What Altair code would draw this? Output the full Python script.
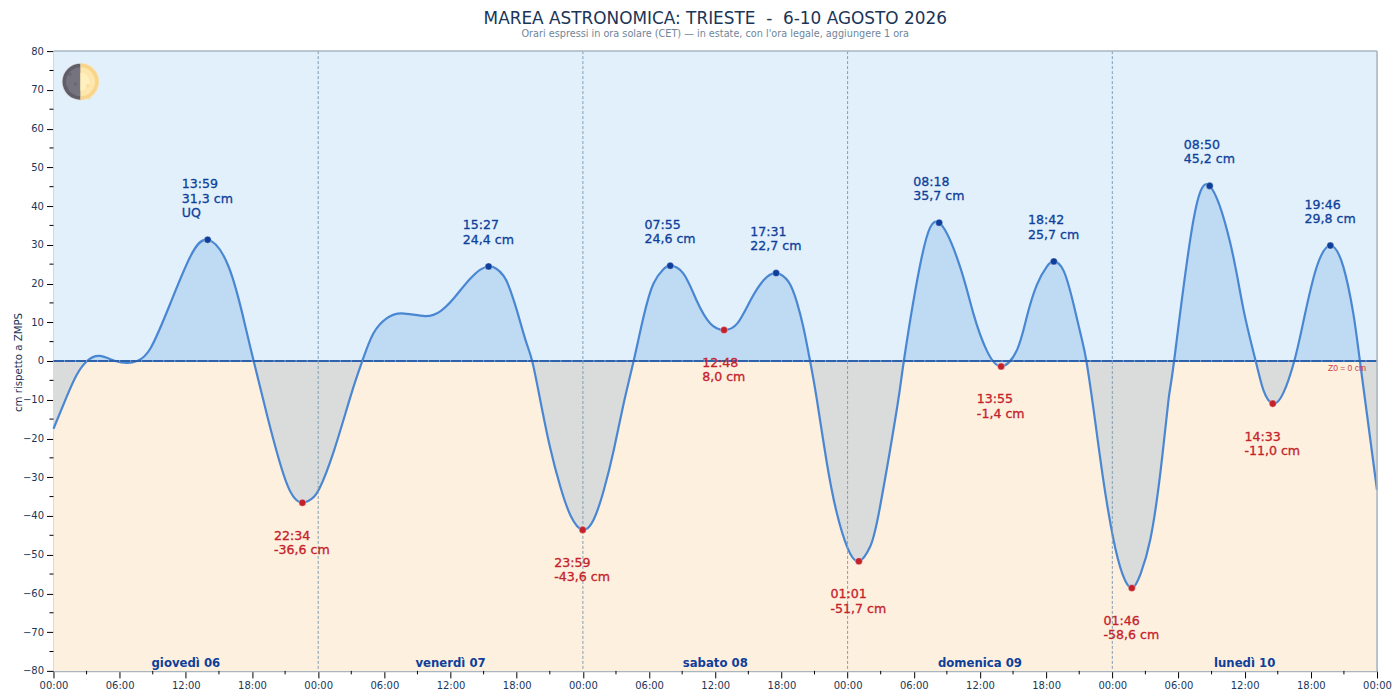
import altair as alt
import pandas as pd

# ---- curve (hours from 00:00 of day 06, cm) ----
curve_h = [0, 1.2, 2.1, 3.05, 4.2, 5.6, 6.75, 7.58, 8.8, 10.6, 12.4, 13.98, 15.9, 17.4, 18.15,
           19.4, 21.2, 22.57, 23.4, 24.1, 25.45, 26.97, 28.0, 29.0, 30.2, 31.6, 33.7, 35.1, 36.3, 37.8, 39.45,
           40.8, 41.4, 42.0, 42.8, 43.4, 44.1, 45.0, 45.95, 46.9, 47.98, 48.97, 49.9, 50.8, 51.7, 52.6, 53.5, 54.4, 55.3, 55.92,
           57.1, 58.3, 59.55, 60.8, 62.0, 63.2, 64.4, 65.52, 66.65, 67.4, 68.0, 68.6, 69.2, 70.1, 71.0, 72.0, 73.02, 74.05,
           74.95, 76.5, 77.1, 78.7, 80.3, 82.2, 83.4, 84.6, 85.92, 87.35, 88.25, 89.15, 90.05, 90.7, 91.6, 92.5, 93.25, 93.65,
           94.3, 95.2, 96.1, 96.9, 97.77, 98.58, 99.45, 100.35, 101.1, 101.6, 103.2, 104.83, 106.7, 107.9, 109.0, 109.7, 110.55, 111.5, 112.5,
           113.35, 114.5, 115.77, 116.95, 117.85, 118.45, 120]
curve_cm = [-17.5, -9.2, -3.6, 0, 1.3, 0, -0.5, 0, 3.3, 14.9, 26.9, 31.3, 24.2, 8.9, 0,
            -14.4, -32.0, -36.6, -35.6, -33.0, -23, -8.8, 0, 7.1, 11.0, 12.3, 11.6, 12.9, 16.2, 21.3, 24.4,
            22.0, 18.4, 13.2, 5.4, 0, -9.6, -22, -32.4, -40, -43.6, -41, -33.3, -23, -10.9, 0, 11.4, 20, 23.7, 24.6,
            22.6, 15.7, 9.7, 8.0, 9.7, 15.7, 20.9, 22.7, 20.4, 15.2, 8.6, 0, -9.7, -26, -39, -48.3, -51.7, -47.9,
            -37.5, -11.8, 0, 26.5, 35.7, 24.3, 12.3, 2.8, -1.4, 2.8, 11.4, 19.6, 24.3, 25.7, 23.2, 14.5, 5.5, 0,
            -12.5, -31, -46, -54.8, -58.6, -54.8, -46, -29, -10, 0, 33.8, 45.2, 30.4, 13.2, 0, -7.5, -11.0, -8.3, 0,
            10.5, 24.0, 29.8, 24.3, 12.3, 0, -33.3]

# ---- labelled extremes ----
high_h = [13.98, 39.45, 55.92, 65.52, 80.3, 90.7, 104.83, 115.77]
high_cm = [31.3, 24.4, 24.6, 22.7, 35.7, 25.7, 45.2, 29.8]
high_time = ["13:59", "15:27", "07:55", "17:31", "08:18", "18:42", "08:50", "19:46"]
high_extra = ["UQ", "", "", "", "", "", "", ""]

low_h = [22.57, 47.98, 60.8, 73.02, 85.92, 97.77, 110.55]
low_cm = [-36.6, -43.6, 8.0, -51.7, -1.4, -58.6, -11.0]
low_time = ["22:34", "23:59", "12:48", "01:01", "13:55", "01:46", "14:33"]

day_h = [12, 36, 60, 84, 108]
day_names = ["giovedì 06", "venerdì 07", "sabato 08", "domenica 09", "lunedì 10"]

midnights = [24, 48, 72, 96]
x_major = list(range(0, 121, 6))
x_minor = list(range(3, 121, 6))
y_major = list(range(-80, 81, 10))
y_minor = list(range(-75, 80, 10))
hours = list(range(1, 120))

moon_h = [2.45]
moon_cm = [72.1]
crater_dark_h = [1.5, 2.0, 1.2, 1.8]
crater_dark_cm = [74.0, 71.5, 70.5, 68.5]
crater_light_h = [3.1, 3.5, 3.2]
crater_light_cm = [71.0, 69.5, 68.0]

TITLE = "MAREA ASTRONOMICA: TRIESTE \u00a0-\u00a0 6-10 AGOSTO 2026"
SUBTITLE = "Orari espressi in ora solare (CET) — in estate, con l'ora legale, aggiungere 1 ora"

NAVY = "#1a3557"
BLUE = "#0e3f9a"
RED = "#c4222b"
FONT = "DejaVu Sans"

x_scale = alt.Scale(domain=[0, 120], nice=False, zero=False)
y_scale = alt.Scale(domain=[-80, 80], nice=False, zero=False)
X = alt.X("h:Q", scale=x_scale)
Y = alt.Y("cm:Q", scale=y_scale)

curve = pd.DataFrame({"h": curve_h, "cm": curve_cm})
zero = pd.DataFrame({"h": [0], "h2": [120], "top": [80], "mid": [0], "bot": [-80]})

bg_top = alt.Chart(zero).mark_rect(color="#e2f0fc").encode(
    x=alt.X("h:Q", scale=x_scale,
            axis=alt.Axis(values=x_major, tickCount=len(x_major), title=None, grid=False, tickSize=7, tickColor="#000000", tickWidth=1,
                          labelExpr="(datum.value%24<10?'0':'')+(datum.value%24)+':00'", labelFont=FONT,
                          labelFontSize=10, labelColor=NAVY, labelPadding=3, domainColor="#a9b6c2", domainWidth=1.5,
                          labelFlush=False, labelOverlap=False)),
    x2="h2:Q",
    y=alt.Y("top:Q", scale=y_scale,
            axis=alt.Axis(values=y_major, tickCount=len(y_major), title="cm rispetto a ZMPS", grid=False, tickSize=7, tickColor="#000000",
                          tickWidth=1, labelFont=FONT, labelFontSize=10, labelColor=NAVY, labelPadding=3,
                          domainColor="#a9b6c2", domainWidth=1.5, titleFont=FONT, titleFontSize=10.2,
                          titleFontWeight="normal", titleColor=NAVY, titleX=-30, titleY=311, labelOverlap=False)),
    y2="mid:Q",
)
bg_bot = alt.Chart(zero).mark_rect(color="#fef0df").encode(x=X, x2="h2:Q", y=alt.Y("mid:Q", scale=y_scale), y2="bot:Q")

# one area between curve and zero: blue above, grey below (split computed from the curve's own range)
split = max(curve_cm) / (max(curve_cm) - min(curve_cm))
fill = alt.LinearGradient(
    gradient="linear", x1=0, y1=0, x2=0, y2=1,
    stops=[alt.GradientStop(offset=0, color="#bfdaf3"), alt.GradientStop(offset=split, color="#bfdaf3"),
           alt.GradientStop(offset=split, color="#dadcdc"), alt.GradientStop(offset=1, color="#dadcdc")],
)
area = alt.Chart(curve).mark_area(color=fill, interpolate="natural").encode(x=X, y=Y, y2=alt.datum(0))
line = alt.Chart(curve).mark_line(color="#4a87d2", strokeWidth=2.2, interpolate="natural").encode(x=X, y=Y)

zero_line = alt.Chart(zero).mark_rule(color="#2f62ad", strokeWidth=2.2).encode(
    x=X, x2="h2:Q", y=alt.Y("mid:Q", scale=y_scale))
hour_ticks = alt.Chart(pd.DataFrame({"h": hours, "cm": [0] * len(hours)})).mark_tick(
    color="#9fbbe0", size=2, thickness=1, orient="vertical").encode(x=X, y=Y)

midnight_lines = alt.Chart(pd.DataFrame({"h": midnights})).mark_rule(
    color="#7f9db3", strokeWidth=1, strokeDash=[3, 2]).encode(x=X)

xminor = alt.Chart(pd.DataFrame({"h": x_minor})).mark_rule(color="#000000", strokeWidth=1).encode(
    x=X, y=alt.value(620), y2=alt.value(623.5))
yminor = alt.Chart(pd.DataFrame({"cm": y_minor})).mark_rule(color="#000000", strokeWidth=1).encode(
    y=Y, x=alt.value(-4), x2=alt.value(0))

# top and right edges of the frame
edges = alt.Chart(zero).mark_rule(color="#a9b6c2", strokeWidth=1.5).encode(
    x=X, x2="h2:Q", y=alt.Y("top:Q", scale=y_scale))
edge_r = alt.Chart(zero).mark_rule(color="#a9b6c2", strokeWidth=1.5).encode(
    x=alt.X("h2:Q", scale=x_scale))

high_pts = alt.Chart(pd.DataFrame({"h": high_h, "cm": high_cm})).mark_circle(
    color=BLUE, size=50, opacity=1, stroke="#ffffff", strokeWidth=0.5, strokeOpacity=0.7).encode(x=X, y=Y)
low_pts = alt.Chart(pd.DataFrame({"h": low_h, "cm": low_cm})).mark_circle(
    color=RED, size=50, opacity=1, stroke="#ffffff", strokeWidth=0.5, strokeOpacity=0.7).encode(x=X, y=Y)

WIDTHS = {",": 0.33, " ": 0.33, "-": 0.37, "c": 0.56, "m": 0.98}


def half_width(text, size=12.6):
    return 0.5 * size * sum(WIDTHS.get(c, 0.65) for c in text)


def fmt(v):
    return f"{v:.1f}".replace(".", ",") + " cm"


def text_layer(h, cm, txt, color, dx, dy):
    return alt.Chart(pd.DataFrame({"h": [h], "cm": [cm], "t": [txt]})).mark_text(
        font=FONT, fontSize=12.6, color=color, align="left", baseline="middle", dx=dx, dy=dy,
        stroke=color, strokeWidth=0.3).encode(x=X, y=Y, text="t:N")


labels = []
for h, c, t, ex in zip(high_h, high_cm, high_time, high_extra):
    lines = [t, fmt(c)] + ([ex] if ex else [])
    dx = -half_width(fmt(c)) + 0.3
    for i, ln in enumerate(lines):
        labels.append(text_layer(h, c, ln, BLUE, dx, -26.6 - 14.4 * (len(lines) - 1 - i)))
for h, c, t in zip(low_h, low_cm, low_time):
    dx = -half_width(fmt(c)) + 0.1
    for i, ln in enumerate([t, fmt(c)]):
        labels.append(text_layer(h, c, ln, RED, dx, 33.0 + 14.4 * i))

days = alt.Chart(pd.DataFrame({"h": day_h, "cm": [-78] * 5, "t": day_names})).mark_text(
    font=FONT, fontSize=11.7, fontWeight="bold", color=BLUE, align="center", baseline="middle").encode(
    x=X, y=Y, text="t:N")

z0 = alt.Chart(pd.DataFrame({"h": [119.0], "cm": [-1.9], "t": ["Z0 = 0 cm"]})).mark_text(
    font="Liberation Sans", fontSize=8.5, color=RED, align="right", baseline="middle", opacity=0.85).encode(
    x=X, y=Y, text="t:N")

# moon
moon_df = pd.DataFrame({"h": moon_h, "cm": moon_cm})
PI = 3.14159265


def arc(r, t1, t2, color):
    return alt.Chart(moon_df).mark_arc(radius=r, theta=t1, theta2=t2, color=color).encode(x=X, y=Y)


moon = [
    arc(18.8, PI, 2 * PI, "#d9d8dc"), arc(18.8, 0, PI, "#f8e4b8"),
    arc(18, PI, 2 * PI, "#5f5e69"), arc(18, 0, PI, "#f9d58c"),
    arc(14.5, PI, 2 * PI, "#75747e"), arc(14.5, 0, PI, "#fee7ad"),
    arc(9, 0, PI, "#fff0c0"),
    alt.Chart(pd.DataFrame({"h": crater_dark_h, "cm": crater_dark_cm})).mark_circle(color="#5f5e69", size=14, opacity=0.5).encode(x=X, y=Y),
    alt.Chart(pd.DataFrame({"h": crater_light_h, "cm": crater_light_cm})).mark_circle(color="#f5d695", size=14, opacity=0.6).encode(x=X, y=Y),
]

chart = alt.layer(
    bg_top, bg_bot, area, line, midnight_lines, zero_line, hour_ticks,
    edges, edge_r, xminor, yminor, *moon, high_pts, low_pts, *labels, days, z0,
).properties(
    width=1324, height=620,
    title=alt.TitleParams(TITLE, subtitle=SUBTITLE, font=FONT, fontSize=16.9, fontWeight="normal", color=NAVY,
                          subtitleFont=FONT, subtitleFontSize=9.7, subtitleColor="#6f8599", anchor="middle",
                          offset=6, subtitlePadding=2),
    autosize=alt.AutoSizeParams(type="none"),
    padding={"left": 45.5, "top": 43, "right": 15, "bottom": 21},
).configure_view(stroke=None).configure(background="#ffffff")

chart.save("out.html", embed_options={"renderer": "svg", "actions": False})
